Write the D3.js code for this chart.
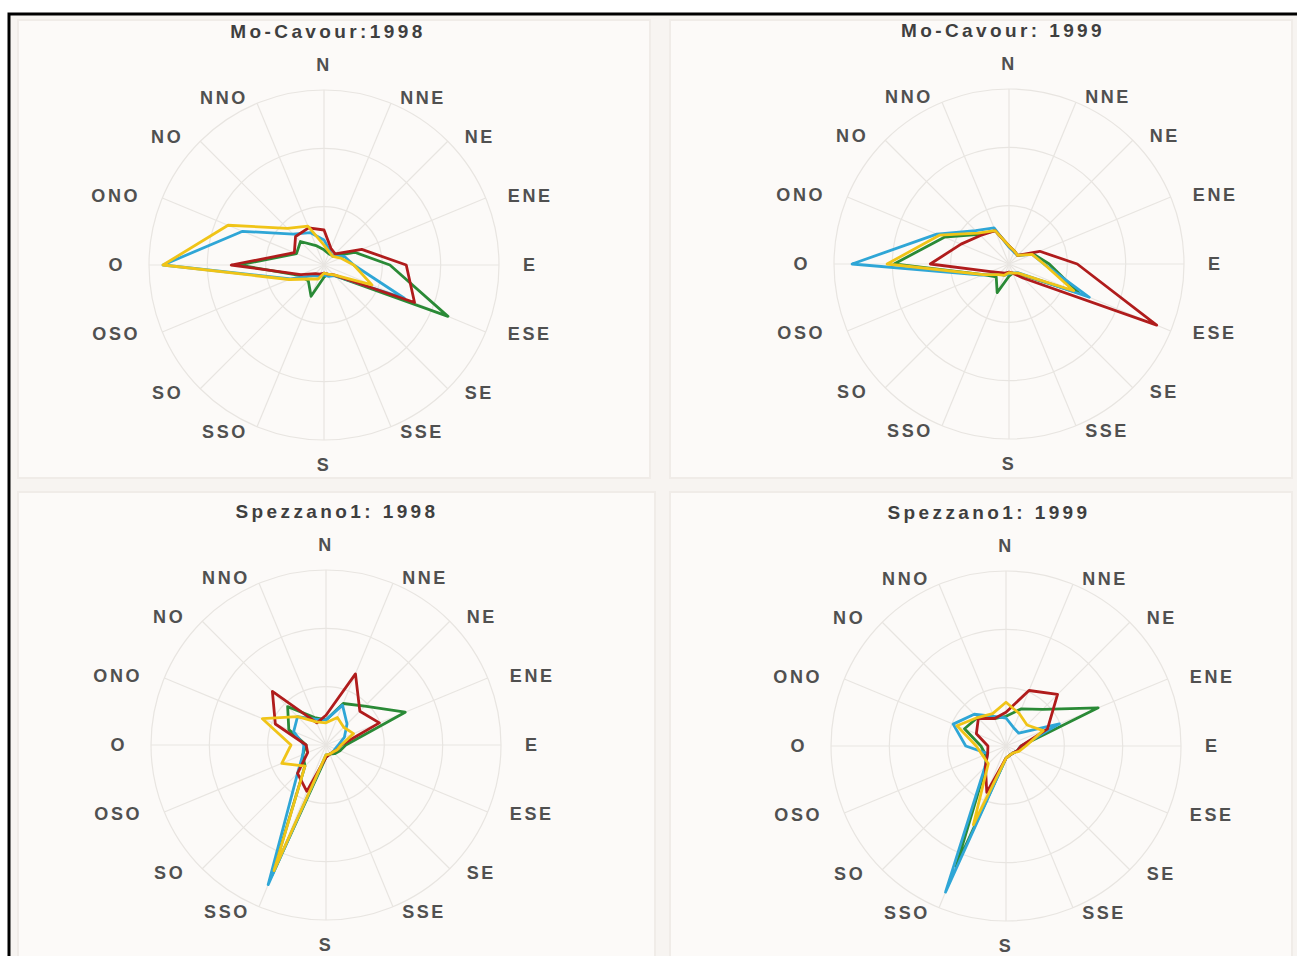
<!DOCTYPE html>
<html lang="it">
<head>
<meta charset="utf-8">
<title>Rose dei venti</title>
<script src="https://d3js.org/d3.v7.min.js"></script>
<style>
  body { margin: 0; background: #fff; }
  svg { display: block; font-family: "Liberation Sans", Arial, sans-serif; }
</style>
</head>
<body>
<div id="chart"></div>
<script>
// Direzioni (16 settori)
const directions = ["N", "NNE", "NE", "ENE", "E", "ESE", "SE", "SSE", "S", "SSO", "SO", "OSO", "O", "ONO", "NO", "NNO"];
const titles = ["Mo-Cavour:1998", "Mo-Cavour: 1999", "Spezzano1: 1998", "Spezzano1: 1999"];
const ringValues = [10, 20, 30];

// Mo-Cavour 1998
const cavour98Red    = [6.0, 3.1, 2.7, 7.0, 14.1, 16.8, 2.4, 1.7, 1.4, 1.7, 2.1, 4.3, 15.9, 5.5, 6.9, 6.9];
const cavour98Green  = [2.6, 2.1, 2.2, 5.7, 11.3, 23.0, 2.6, 1.7, 2.1, 5.8, 3.8, 4.6, 14.6, 5.1, 5.7, 3.6];
const cavour98Blue   = [4.3, 2.6, 2.1, 3.8, 5.1, 14.9, 2.6, 2.1, 1.7, 2.1, 2.6, 6.2, 27.6, 15.1, 7.5, 6.0];
const cavour98Yellow = [3.4, 2.4, 2.1, 3.1, 5.1, 8.9, 2.4, 1.7, 1.4, 2.6, 3.4, 6.5, 27.6, 17.8, 8.9, 7.2];

// Mo-Cavour 1999
const cavour99Red    = [3.1, 2.4, 2.1, 5.7, 11.7, 27.4, 3.4, 1.7, 1.4, 1.7, 2.1, 3.4, 13.5, 8.9, 6.9, 6.2];
const cavour99Green  = [3.1, 2.4, 2.1, 4.5, 6.9, 12.9, 2.4, 1.7, 2.1, 5.3, 3.1, 4.8, 19.7, 12.0, 7.2, 6.2];
const cavour99Blue   = [2.9, 2.2, 2.1, 4.3, 6.0, 14.9, 2.1, 1.7, 1.7, 2.1, 2.4, 5.0, 26.9, 13.4, 8.1, 6.7];
const cavour99Yellow = [3.1, 2.4, 2.1, 4.3, 6.0, 12.0, 2.2, 1.7, 1.5, 2.1, 2.6, 4.8, 20.9, 12.9, 7.5, 6.2];

// Spezzano1 1998
const spezz98Red    = [5.1, 13.2, 8.2, 9.9, 2.6, 2.1, 1.7, 1.7, 2.1, 8.6, 6.9, 3.4, 3.4, 9.4, 13.0, 4.1];
const spezz98Green  = [4.3, 7.7, 9.4, 14.7, 3.4, 2.6, 2.1, 1.7, 2.1, 24.0, 5.1, 4.3, 3.4, 6.9, 9.3, 5.1];
const spezz98Blue   = [4.3, 7.4, 5.1, 3.4, 2.1, 1.7, 1.7, 1.7, 1.7, 25.9, 6.9, 4.3, 3.8, 6.0, 6.9, 4.8];
const spezz98Yellow = [3.8, 5.1, 4.3, 5.1, 2.6, 2.1, 1.7, 1.7, 1.7, 23.3, 5.1, 8.2, 6.0, 11.8, 6.9, 4.3];

// Spezzano1 1999
const spezz99Red    = [5.8, 10.3, 12.5, 7.7, 2.6, 2.1, 1.7, 1.7, 2.1, 8.6, 5.0, 3.4, 3.1, 5.5, 6.7, 5.1];
const spezz99Green  = [5.1, 6.9, 8.9, 17.1, 2.6, 2.1, 1.7, 1.7, 2.1, 22.3, 4.8, 3.8, 4.3, 7.7, 6.9, 5.1];
const spezz99Blue   = [4.8, 3.4, 3.1, 9.9, 2.6, 2.1, 1.7, 1.7, 2.1, 27.1, 5.1, 3.4, 6.9, 9.8, 7.7, 5.5];
const spezz99Yellow = [7.5, 6.0, 5.1, 6.9, 3.4, 2.4, 1.7, 1.7, 2.1, 14.6, 4.3, 4.3, 5.1, 9.1, 6.9, 6.0];

const colors = ["#2a8a36", "#2fa6d6", "#b01c1c", "#f0c417"];
const panels = [
  [cavour98Green, cavour98Blue, cavour98Red, cavour98Yellow],
  [cavour99Green, cavour99Blue, cavour99Red, cavour99Yellow],
  [spezz98Green, spezz98Blue, spezz98Red, spezz98Yellow],
  [spezz99Green, spezz99Blue, spezz99Red, spezz99Yellow]
];

const width = 1297;
const height = 956;
const R = 175;
const centers = [[324, 265], [1009, 264], [326, 745], [1006, 746]];
const titleDx = [4, -6, 11, -17];
const boxes = [[18, 20, 632, 458], [670, 20, 622, 458], [18, 492, 637, 470], [670, 492, 622, 470]];

const svg = d3.select("#chart").append("svg")
  .attr("width", width)
  .attr("height", height);

// sfondo scansione
svg.append("rect")
  .attr("x", 9).attr("y", 14)
  .attr("width", width).attr("height", height)
  .attr("fill", "#f7f4f1");

svg.selectAll(".box")
  .data(boxes)
  .enter().append("rect")
  .attr("class", "box")
  .attr("x", d => d[0]).attr("y", d => d[1])
  .attr("width", d => d[2]).attr("height", d => d[3])
  .attr("fill", "#fcfaf8")
  .attr("stroke", "#f0ece8")
  .attr("stroke-width", 2);

// cornice nera
svg.append("path")
  .attr("d", `M9,${height} V14 H${width}`)
  .attr("fill", "none")
  .attr("stroke", "#000")
  .attr("stroke-width", 3);

const r = d3.scaleLinear().domain([0, 30]).range([0, R]);
const angle = d3.scaleLinear().domain([0, directions.length]).range([0, 2 * Math.PI]);

const line = d3.lineRadial()
  .angle((d, i) => angle(i))
  .radius(d => r(d))
  .curve(d3.curveLinearClosed);

panels.forEach((series, p) => {
  const g = svg.append("g")
    .attr("transform", `translate(${centers[p][0]},${centers[p][1]})`);

  // cerchi
  g.selectAll(".ring")
    .data(ringValues)
    .enter().append("circle")
    .attr("r", d => r(d))
    .attr("fill", "none")
    .attr("stroke", "#e8e5e1")
    .attr("stroke-width", 1.2);

  // raggi
  g.selectAll(".spoke")
    .data(directions)
    .enter().append("line")
    .attr("x1", 0).attr("y1", 0)
    .attr("x2", (d, i) => r(30) * Math.sin(angle(i)))
    .attr("y2", (d, i) => -r(30) * Math.cos(angle(i)))
    .attr("stroke", "#e8e5e1")
    .attr("stroke-width", 1.2);

  // etichette direzioni
  g.selectAll(".dir")
    .data(directions)
    .enter().append("text")
    .attr("x", (d, i) => {
      const s = Math.sin(angle(i));
      return Math.abs(s) < 0.01 ? 0 : 199 * s;
    })
    .attr("y", (d, i) => {
      const c = Math.cos(angle(i));
      if (Math.abs(Math.sin(angle(i))) < 0.01) return -200 * c;
      return -181 * c;
    })
    .attr("text-anchor", (d, i) => {
      const s = Math.sin(angle(i));
      return Math.abs(s) < 0.01 ? "middle" : (s > 0 ? "start" : "end");
    })
    .attr("dominant-baseline", "central")
    .attr("font-size", 18)
    .attr("font-weight", "bold")
    .attr("letter-spacing", 2.6)
    .attr("fill", "#505050")
    .text(d => d);

  // titolo
  g.append("text")
    .attr("x", titleDx[p])
    .attr("y", -234)
    .attr("text-anchor", "middle")
    .attr("dominant-baseline", "central")
    .attr("font-size", 19)
    .attr("font-weight", "bold")
    .attr("letter-spacing", 3.4)
    .attr("fill", "#3f3f3f")
    .text(titles[p]);

  // serie
  g.selectAll(".serie")
    .data(series)
    .enter().append("path")
    .attr("d", d => line(d))
    .attr("fill", "none")
    .attr("stroke", (d, i) => colors[i])
    .attr("stroke-width", 2.8)
    .attr("stroke-linejoin", "round");
});
</script>
</body>
</html>
